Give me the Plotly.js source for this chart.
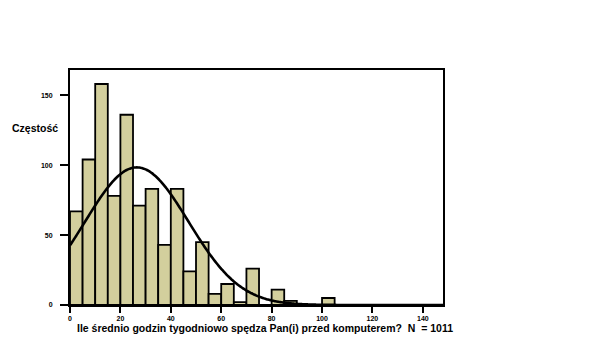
<!DOCTYPE html>
<html>
<head>
<meta charset="utf-8">
<script src="https://cdn.plot.ly/plotly-3.0.1.min.js"></script>
<style>html,body{margin:0;padding:0;background:#fff}#chart{width:593px;height:360px}</style>
</head>
<body>
<div id="chart"></div>
<script>
// Histogram bins (hours per week), bin width 5
const binStarts = [0,5,10,15,20,25,30,35,40,45,50,55,60,65,70,75,80,85,90,95,100];
const counts    = [67,104,158,78,136,71,83,43,83,24,45,8,15,2,26,0,11,3,0,0,5];
const binWidth = 5;
// Fitted normal curve parameters (SPSS overlay)
const normMean = 26.5;
const normSD = 20.5;
const normN = 1011;
const xTickVals = [0,20,40,60,80,100,120,140];
const yTickVals = [0,50,100,150];
const xTitle = 'Ile średnio godzin tygodniowo spędza Pan(i) przed komputerem?  N  = 1011';
const yTitle = 'Częstość';

const barX = binStarts.map(s => s + binWidth/2);
const curveX = [], curveY = [];
for (let x = 0; x <= 148; x += 0.5) {
  curveX.push(x);
  curveY.push(normN*binWidth/(normSD*Math.sqrt(2*Math.PI))*Math.exp(-Math.pow(x-normMean,2)/(2*normSD*normSD)));
}

const tickFont = {family:'Liberation Sans, Arial, sans-serif', size:7, color:'#000', weight:'bold'};
const data = [
  {type:'bar', x:barX, y:counts, width:binWidth,
   marker:{color:'#D3CF9D', line:{color:'#000', width:1.8}}, hoverinfo:'x+y'},
  {type:'scatter', mode:'lines', x:curveX, y:curveY,
   line:{color:'#000', width:2.6, shape:'spline'}, hoverinfo:'skip'}
];
const layout = {
  width:593, height:360,
  margin:{l:70, r:150, t:70, b:55},
  paper_bgcolor:'#fff', plot_bgcolor:'#fff',
  showlegend:false, bargap:0,
  xaxis:{range:[0,148], tickvals:xTickVals, ticks:'outside', ticklen:6, tickwidth:2, tickcolor:'#000',
         showgrid:false, zeroline:false, showline:true, linecolor:'#000', linewidth:2, mirror:true,
         tickfont:tickFont, fixedrange:true},
  yaxis:{range:[0,168], tickvals:yTickVals, ticks:'outside', ticklen:8, tickwidth:2, tickcolor:'#000',
         ticklabelstandoff:6,
         showgrid:false, zeroline:false, showline:true, linecolor:'#000', linewidth:2, mirror:true,
         tickfont:tickFont, fixedrange:true},
  annotations:[
    {text:xTitle, xref:'paper', yref:'paper', x:0.522, y:-0.065, xanchor:'center', yanchor:'top', showarrow:false,
     font:{family:'Liberation Sans, Arial, sans-serif', size:10.5, color:'#000', weight:'bold'}},
    {text:yTitle, xref:'paper', yref:'paper', x:-0.094, y:0.754, xanchor:'center', yanchor:'middle', showarrow:false,
     font:{family:'Liberation Sans, Arial, sans-serif', size:10.5, color:'#000', weight:'bold'}}
  ]
};
Plotly.newPlot('chart', data, layout, {displayModeBar:false, staticPlot:true});
</script>
</body>
</html>
